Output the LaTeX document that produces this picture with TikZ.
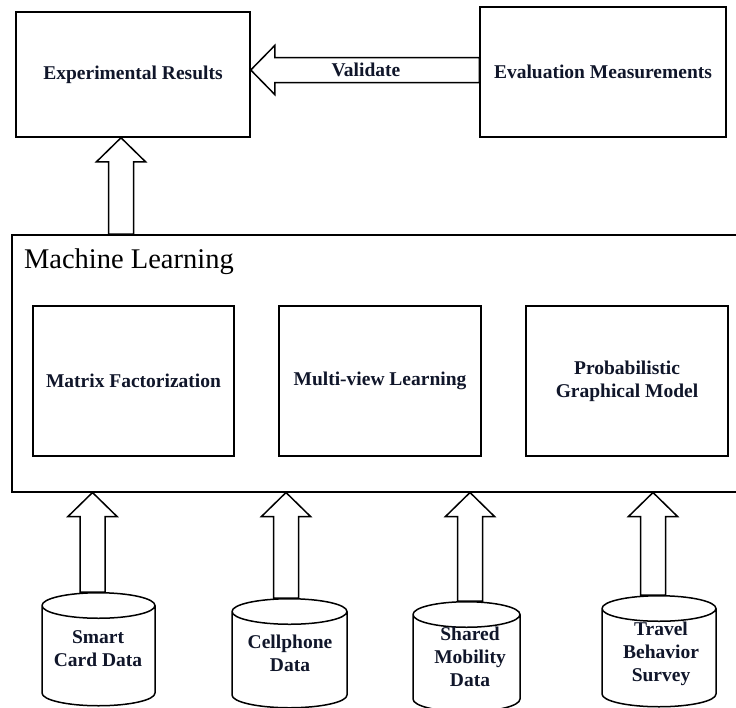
\documentclass[tikz,border=0pt]{standalone}
\usepackage{fontspec}
\setmainfont{Liberation Serif}
\usetikzlibrary{calc,positioning,shapes.geometric}

\definecolor{txtnavy}{RGB}{16,22,42}

\tikzset{
  box/.style={draw, line width=1.5pt, fill=white, align=center, text=txtnavy,
    font=\fontsize{19.5}{23}\selectfont\bfseries},
  datacyl/.style={cylinder, shape border rotate=90, draw, line width=1.5pt, fill=white,
    aspect=0.255, inner sep=0pt, text width=100pt, anchor=north},
  cyltext/.style={align=center, text=txtnavy, font=\fontsize{19.5}{23}\selectfont\bfseries},
  blockarrow/.style={draw, line width=1.5pt, fill=white, line join=miter},
}

% hollow block arrow from #1 to #2 (tip)
\newcommand{\fatarrow}[2]{%
  \path ($(#2)!24pt!(#1)$) coordinate (hb);
  \draw[blockarrow] ($(#1)!12.5pt!90:(#2)$) -- ($(hb)!12.5pt!90:(#2)$)
    -- ($(hb)!24.5pt!90:(#2)$) -- (#2) -- ($(hb)!24.5pt!-90:(#2)$)
    -- ($(hb)!12.5pt!-90:(#2)$) -- ($(#1)!12.5pt!-90:(#2)$) -- cycle;}

\begin{document}
\begin{tikzpicture}[x=1pt,y=-1pt]
  \useasboundingbox (0,0) rectangle (736,707);

  % top row
  \node[box, minimum width=234pt, minimum height=125pt] (exp) at (133,74.5) {Experimental Results};
  \node[box, minimum width=246pt, minimum height=130pt] (eval) at (603,72) {Evaluation Measurements};

  % machine learning block
  \node[draw, line width=1.5pt, minimum width=730pt, minimum height=257pt, anchor=north west] (ml) at (11,234) {};
  \node[anchor=base west, font=\fontsize{28.5}{30}\selectfont] (mltitle) at (20.5,268) {Machine Learning};
  \node[box, minimum width=201pt, minimum height=150pt] (mf) at (133.5,381) {Matrix Factorization};
  \node[box, minimum width=202pt, minimum height=150pt] (mvl) at (380,381) {Multi-view Learning};
  \node[box, minimum width=202pt, minimum height=150pt] (pgm) at (627,381) {Probabilistic\\Graphical Model};

  % data sources
  \node[datacyl, minimum width=113pt, minimum height=113pt] (smart) at (98.5,592) {};
  \node[datacyl, minimum width=115pt, minimum height=109pt] (cell) at (289.5,598) {};
  \node[datacyl, minimum width=107pt, minimum height=110pt] (shared) at (466.5,601) {};
  \node[datacyl, minimum width=114pt, minimum height=111pt] (travel) at (659,595) {};
  \node[cyltext] (smarttxt) at (98,649) {Smart\\Card Data};
  \node[cyltext] (celltxt) at (290,653) {Cellphone\\Data};
  \node[cyltext] (sharedtxt) at (470,657) {Shared\\Mobility\\Data};
  \node[cyltext] (traveltxt) at (661,654) {Travel\\Behavior\\Survey};

  % arrows
  \coordinate (vy) at (0,70);
  \coordinate (ux) at (121,0);
  \path (eval.west |- vy) coordinate (valfrom) (exp.east |- vy) coordinate (valto);
  \path (ml.north -| ux) coordinate (mlout) (exp.south -| ux) coordinate (expin);
  \fatarrow{valfrom}{valto}
  \node[cyltext] (val) at (366,70) {Validate};
  \fatarrow{mlout}{expin}
  \foreach \src/\dx in {smart/-6,cell/-3.5,shared/3.5,travel/-6}{
    \path (\src.north) ++(\dx,0) coordinate (\src out);
    \path (\src out |- ml.south) coordinate (\src in);
    \fatarrow{\src out}{\src in}
  }
\end{tikzpicture}
\end{document}
